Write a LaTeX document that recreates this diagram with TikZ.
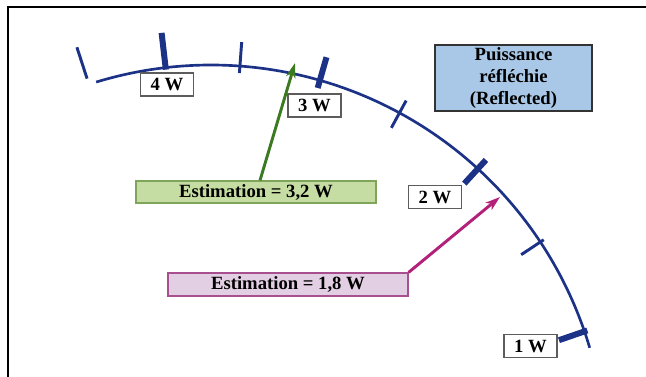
\documentclass[tikz,border=0pt]{standalone}
\usepackage{fontspec}
\setmainfont{Liberation Serif}
\usepackage{tikz}
\usetikzlibrary{arrows.meta,calc,positioning}
\definecolor{Navy}{HTML}{1C3287}
\definecolor{PaleBlue}{HTML}{A9C7E6}
\definecolor{PaleGreen}{HTML}{C5DCA2}
\definecolor{GreenRule}{HTML}{7FA55A}
\definecolor{Green}{HTML}{3C7A22}
\definecolor{PalePink}{HTML}{E3CFE3}
\definecolor{PinkRule}{HTML}{A8508F}
\definecolor{Magenta}{HTML}{B2207A}
\definecolor{Ink}{HTML}{333333}

\begin{document}
\begin{tikzpicture}[
  x=0.75pt,y=0.75pt,
  font=\fontsize{14}{16.5}\selectfont\bfseries,
  meterarc/.style={line width=2pt,color=Navy},
  minor/.style={line width=2.2pt,color=Navy},
  major/.style={line width=4.5pt,color=Navy},
  value/.style={draw=Ink!80,fill=white,line width=0.8pt,inner sep=0pt,
    minimum width=39.75pt,minimum height=17.25pt},
  estim/.style={line width=0.9pt,inner sep=0pt,
    minimum width=180pt,minimum height=16.5pt},
  arr/.style={-{Stealth[length=11pt,width=7pt,inset=3pt]},line width=2.2pt}
]
\useasboundingbox (0,0) rectangle (646,377);
% Frame, cut at the right and bottom edges.
\draw[line width=1.3pt] (8,0)--(8,370)--(646,370);

% Meter scale.
\coordinate (ctr) at (211,-83);
\draw[meterarc] ($(ctr)+(106.9:395)$) arc[start angle=106.9,end angle=16.5,radius=395];
\foreach \a/\ri/\ro in {108/401/434,85.8/388/419,61.5/378/409,33.5/372/399}
  \draw[minor] ($(ctr)+(\a:\ri)$)--($(ctr)+(\a:\ro)$);
\foreach \a/\ri/\ro in {96.6/393/430,74/387/419,47.5/375/407,19/368/398}
  \draw[major] ($(ctr)+(\a:\ri)$)--($(ctr)+(\a:\ro)$);

\node[value] (four) at (167,292.5) {4 W};
\node[value] (three) at (314.5,271.5) {3 W};
\node[value] (two) at (435,180) {2 W};
\node[value] (one) at (530.5,31) {1 W};

\node[draw=Ink,fill=PaleBlue,line width=1.1pt,align=center,inner sep=0pt,
  minimum width=117.75pt,minimum height=49.5pt] (title) at (513.5,299)
  {Puissance\\réfléchie\\(Reflected)};

% Estimates.
\node[estim,draw=GreenRule,fill=PaleGreen] (est32) at (256,185)
  {Estimation = 3,2 W};
\node[estim,draw=PinkRule,fill=PalePink,minimum height=17.25pt] (est18)
  at (288,92.5) {Estimation = 1,8 W};
\coordinate (tip32) at (295,314);
\coordinate (tip18) at (500,180);
\draw[arr,Green] ([xshift=3pt]est32.north)--(tip32);
\draw[arr,Magenta] (est18.north east)--(tip18);
\end{tikzpicture}
\end{document}
